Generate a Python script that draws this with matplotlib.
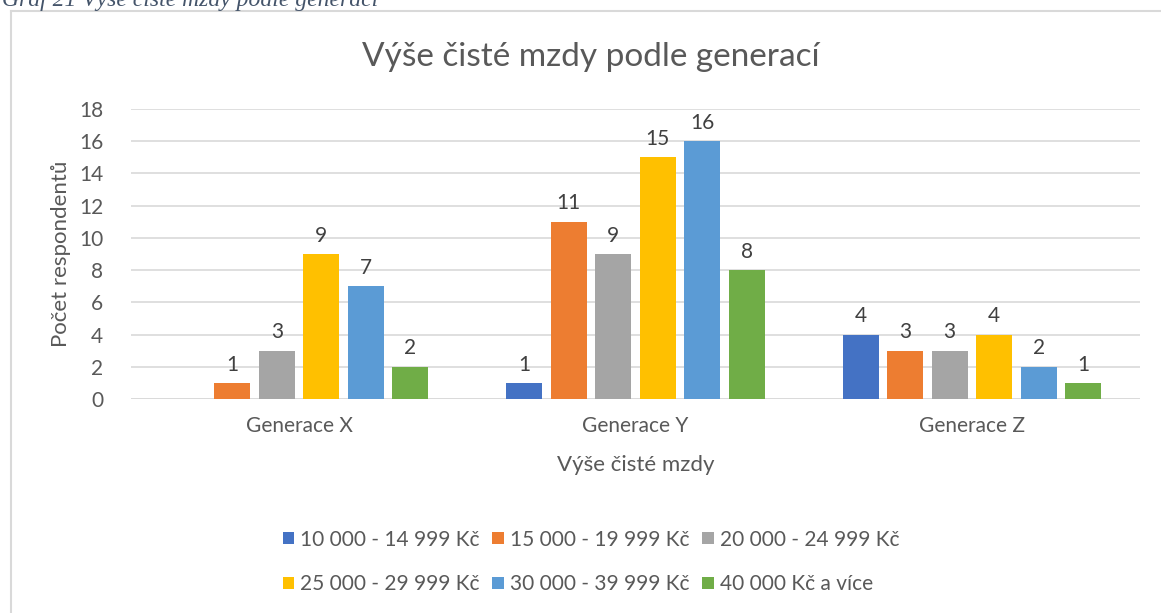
import matplotlib.pyplot as plt
from matplotlib.lines import Line2D
from matplotlib.patches import Patch
import numpy as np

# Data
generations = ['Generace X', 'Generace Y', 'Generace Z']
salary_bands = ['10 000 - 14 999 Kč', '15 000 - 19 999 Kč', '20 000 - 24 999 Kč',
                '25 000 - 29 999 Kč', '30 000 - 39 999 Kč', '40 000 Kč a více']
band_10_15 = [0, 1, 4]
band_15_20 = [1, 11, 3]
band_20_25 = [3, 9, 3]
band_25_30 = [9, 15, 4]
band_30_40 = [7, 16, 2]
band_40_up = [2, 8, 1]
yticks = [0, 2, 4, 6, 8, 10, 12, 14, 16, 18]

series = [band_10_15, band_15_20, band_20_25, band_25_30, band_30_40, band_40_up]
colors = ['#4472C4', '#ED7D31', '#A5A5A5', '#FFC000', '#5B9BD5', '#70AD47']

plt.rcParams['font.family'] = ['Lato', 'DejaVu Sans']

W, H = 1161, 613
fig = plt.figure(figsize=(W / 100, H / 100), dpi=100)
ax = fig.add_axes([131 / W, 1 - 399 / H, (1140 - 131) / W, (399 - 109) / H])

x = np.arange(len(generations))
slot = 0.1323
bar_w = 0.107
for i, (vals, col, lab) in enumerate(zip(series, colors, salary_bands)):
    pos = x + (i - 2.5) * slot
    bars = ax.bar(pos, vals, width=bar_w, color=col, label=lab, zorder=3)
    for b, v in zip(bars, vals):
        if v > 0:
            ax.annotate(str(v), (b.get_x() + b.get_width() / 2, v),
                        xytext=(0, 6), textcoords='offset points',
                        ha='center', va='bottom', fontsize=15, color='#404040')

ax.set_xlim(-0.5, 2.5)
ax.set_ylim(0, 18)
ax.set_yticks(yticks)
ax.set_xticks(x)
ax.set_xticklabels(generations)
ax.grid(axis='y', color='#D9D9D9', linewidth=1.2, zorder=0)
ax.tick_params(axis='both', length=0, labelsize=15, labelcolor='#595959')
ax.tick_params(axis='x', pad=12)
ax.tick_params(axis='y', pad=20)
for s in ax.spines.values():
    s.set_visible(False)
ax.axhline(0, color='#D9D9D9', linewidth=1.2, zorder=2)

ax.set_xlabel('Výše čisté mzdy', fontsize=16, color='#595959', labelpad=14)
ax.set_ylabel('Počet respondentů', fontsize=16, color='#595959', labelpad=6)

fig.text(591 / W, 1 - 57 / H, 'Výše čisté mzdy podle generací', ha='center', va='center',
         fontsize=24, color='#595959')

# legend fills row by row in the reference; matplotlib fills columns
handles = [Patch(facecolor=c, label=l) for c, l in zip(colors, salary_bands)]
order = [0, 3, 1, 4, 2, 5]
fig.legend(handles=[handles[k] for k in order], loc='center',
           bbox_to_anchor=(591 / W, 1 - 562 / H), ncol=3,
           frameon=False, fontsize=15, labelcolor='#595959',
           handlelength=0.55, handleheight=0.55, handletextpad=0.3,
           columnspacing=0.6, labelspacing=1.2)

# chart frame (cropped) and caption above it
fig.add_artist(Line2D([11 / W, 11 / W], [0, 1 - 11 / H], color='#D9D9D9', linewidth=1.5))
fig.add_artist(Line2D([11 / W, 1], [1 - 11 / H, 1 - 11 / H], color='#D9D9D9', linewidth=1.5))
fig.text(2 / W, 1 - 6 / H, 'Graf 21 Výše čisté mzdy podle generací', ha='left', va='baseline',
         fontsize=17, style='italic', family='Liberation Serif', color='#44546A')

fig.savefig('out.png', dpi=100)
